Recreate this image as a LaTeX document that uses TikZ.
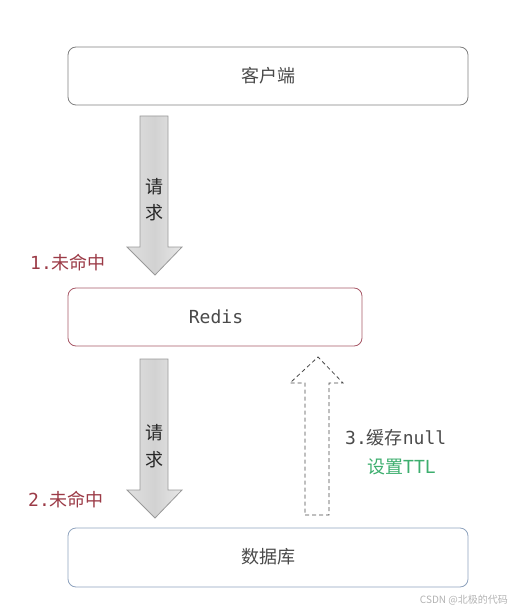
\documentclass[tikz,border=0pt]{standalone}
\usepackage{fontspec}
\setmainfont{Noto Sans CJK SC}
\newfontfamily\cjk{Noto Sans CJK SC}
\newfontfamily\mono{DejaVu Sans Mono}
\definecolor{boxgray}{HTML}{808080}
\definecolor{redisborder}{HTML}{A85A68}
\definecolor{dbborder}{HTML}{8FA3BE}
\definecolor{missred}{HTML}{9B3A46}
\definecolor{ttlgreen}{HTML}{3DAE6E}
\definecolor{txtgray}{HTML}{4A4A4A}
\definecolor{arrowfill}{HTML}{D2D2D2}
\definecolor{arrowline}{HTML}{999999}
\begin{document}
\begin{tikzpicture}[x=1pt,y=-1pt,
  box/.style={draw, line width=0.8pt, rounded corners=8pt, fill=white},
  bigarrow/.style={draw=arrowline, line width=0.8pt, left color=arrowfill!70, right color=arrowfill!110!black, middle color=arrowfill},
  dasharrow/.style={draw=txtgray, line width=0.8pt, dashed, dash pattern=on 4pt off 3pt},
  lbl/.style={inner sep=0pt, font=\fontsize{18}{21}\selectfont, text=txtgray}
]
\useasboundingbox (0,0) rectangle (511,612);
% boxes
\draw[box, draw=boxgray] (68,47) rectangle (468,105);
\node[lbl] (client) at (268,76) {\cjk 客户端};
\draw[box, draw=redisborder] (68,288) rectangle (362,346);
\node[lbl] (redis) at (216,317) {\mono Redis};
\draw[box, draw=dbborder] (68,528) rectangle (468,587);
\node[lbl] (db) at (268,557) {\cjk 数据库};
% arrow 1
\path[bigarrow] (140,116) -- (168,116) -- (168,247) -- (182,247) -- (155,275) -- (127,247) -- (140,247) -- cycle;
\node[lbl, text=black!85] (req1a) at (154,187) {\cjk 请};
\node[lbl, text=black!85] (req1b) at (154,213) {\cjk 求};
\node[lbl, text=missred, anchor=west] (miss1) at (30,263) {{\mono 1.}\cjk 未命中};
% arrow 2
\path[bigarrow] (140,359) -- (168,359) -- (168,490) -- (182,490) -- (155,518) -- (127,490) -- (140,490) -- cycle;
\node[lbl, text=black!85] (req2a) at (154,433) {\cjk 请};
\node[lbl, text=black!85] (req2b) at (154,460) {\cjk 求};
\node[lbl, text=missred, anchor=west] (miss2) at (28,500) {{\mono 2.}\cjk 未命中};
% dashed arrow
\draw[dasharrow] (305,515) -- (329,515) -- (329,383) -- (343,383) -- (318,357) -- (290,383) -- (305,383) -- cycle;
\node[lbl, anchor=west] (cache) at (345,438) {{\mono 3.}\cjk 缓存{\mono null}};
\node[lbl, text=ttlgreen, anchor=west] (ttl) at (367,467) {\cjk 设置{\mono TTL}};
% watermark
\node[inner sep=0pt, anchor=east, font=\fontsize{10}{12}\selectfont, text=gray!60] (wm) at (508,600) {\cjk CSDN @北极的代码};
\end{tikzpicture}
\end{document}
